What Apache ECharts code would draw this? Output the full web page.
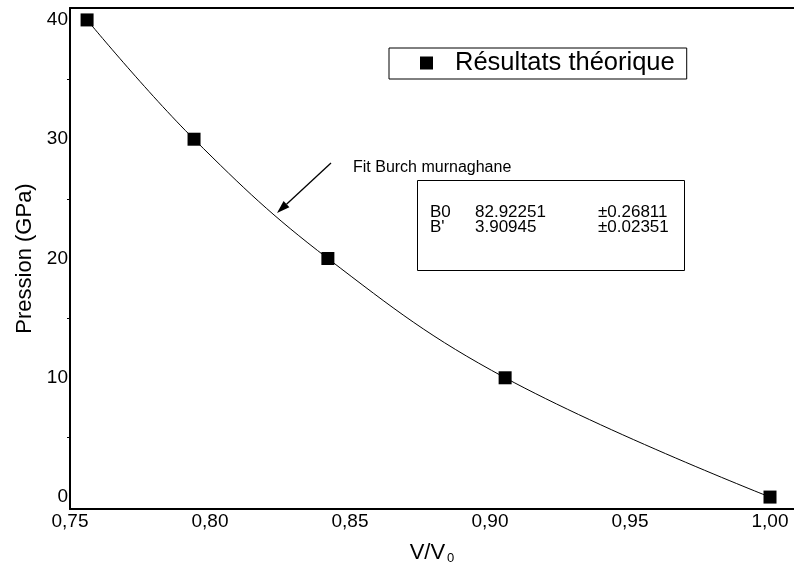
<!DOCTYPE html>
<html>
<head>
<meta charset="utf-8">
<script src="https://cdn.jsdelivr.net/npm/echarts@6/dist/echarts.min.js"></script>
<style>
  html, body { margin: 0; padding: 0; background: #fff; }
  #chart { width: 794px; height: 572px; }
</style>
</head>
<body>
<div id="chart"></div>
<script>
// Volume ratio V/V0 and computed pressure (GPa)
const volumeRatio = [0.7561, 0.7943, 0.8421, 0.9054, 1.0];
const pressure = [40, 30, 20, 10, 0];

// Tick labels
const xTicks = [0.75, 0.80, 0.85, 0.90, 0.95, 1.00];
const yTicks = [0, 10, 20, 30, 40];
const yMinorTicks = [5, 15, 25, 35];

// Fit parameters (Birch-Murnaghan)
const fitRows = [
  ['B0', '82.92251', '\u00b10.26811'],
  ["B'", '3.90945', '\u00b10.02351']
];

const FONT = '"Liberation Sans", Arial, sans-serif';
const chart = echarts.init(document.getElementById('chart'));

const points = volumeRatio.map((v, i) => [v, pressure[i]]);

const fitText = [];
fitRows.forEach((row, r) => {
  const y = 218 + r * 15;
  [430, 475, 598].forEach((x, c) => {
    fitText.push({
      type: 'text', left: x, top: y - 14,
      style: { text: row[c], font: '17px ' + FONT, fill: '#000' }
    });
  });
});

chart.setOption({
  animation: false,
  backgroundColor: '#fff',
  grid: { left: 70, right: 0, top: 8, bottom: 63 },
  legend: {
    left: 389, top: 48,
    padding: [2, 12, 3, 31],
    itemGap: 0,
    itemWidth: 13, itemHeight: 13,
    borderColor: '#000', borderWidth: 1, borderRadius: 0,
    icon: 'rect',
    data: ['Résultats théorique'],
    textStyle: { fontFamily: FONT, fontSize: 25.5, color: '#000', padding: [0, 0, 0, 17] }
  },
  xAxis: [{
    type: 'value',
    min: 0.75, max: 1.00857,
    position: 'bottom',
    axisLine: { show: true, onZero: false, lineStyle: { color: '#000', width: 2 } },
    axisTick: { show: false },
    splitLine: { show: false },
    axisLabel: {
      customValues: xTicks,
      margin: 3,
      fontFamily: FONT, fontSize: 19, color: '#000',
      formatter: v => v.toFixed(2).replace('.', ',')
    },
    name: 'V/V{sub|0}',
    nameLocation: 'middle',
    nameGap: 31,
    nameTextStyle: {
      fontFamily: FONT, fontSize: 22, color: '#000',
      rich: { sub: { fontFamily: FONT, fontSize: 13, color: '#000', verticalAlign: 'bottom', padding: [12, 0, 0, 2] } }
    }
  }, {
    type: 'value',
    min: 0.75, max: 1.00857,
    position: 'top',
    axisLine: { show: true, onZero: false, lineStyle: { color: '#000', width: 2 } },
    axisTick: { show: false },
    axisLabel: { show: false },
    splitLine: { show: false }
  }],
  yAxis: {
    type: 'value',
    min: -1, max: 41,
    axisLine: { show: true, onZero: false, lineStyle: { color: '#000', width: 2 } },
    axisTick: { show: true, customValues: yMinorTicks, length: 3, lineStyle: { color: '#000', width: 1 } },
    splitLine: { show: false },
    axisLabel: {
      customValues: yTicks,
      margin: 2,
      fontFamily: FONT, fontSize: 19, color: '#000'
    },
    name: 'Pression (GPa)',
    nameLocation: 'middle',
    nameGap: 34,
    nameTextStyle: { fontFamily: FONT, fontSize: 22, color: '#000' }
  },
  series: [{
    name: 'Résultats théorique',
    type: 'line',
    data: points,
    smooth: 0.4,
    symbol: 'rect',
    symbolSize: 13,
    itemStyle: { color: '#000' },
    lineStyle: { color: '#000', width: 1 }
  }],
  graphic: [
    {
      type: 'rect',
      shape: { x: 417.5, y: 180.5, width: 267, height: 90 },
      style: { fill: 'none', stroke: '#000', lineWidth: 1 }
    },
    {
      type: 'text', left: 353, top: 160,
      style: { text: 'Fit Burch murnaghane', font: '16px ' + FONT, fill: '#000' }
    },
    {
      type: 'line',
      shape: { x1: 331, y1: 163, x2: 286.5, y2: 204.2 },
      style: { stroke: '#000', lineWidth: 1.3 }
    },
    {
      type: 'polygon',
      shape: { points: [[277, 213], [289.4, 207.3], [283.6, 201.1]] },
      style: { fill: '#000' }
    }
  ].concat(fitText)
});
</script>
</body>
</html>
